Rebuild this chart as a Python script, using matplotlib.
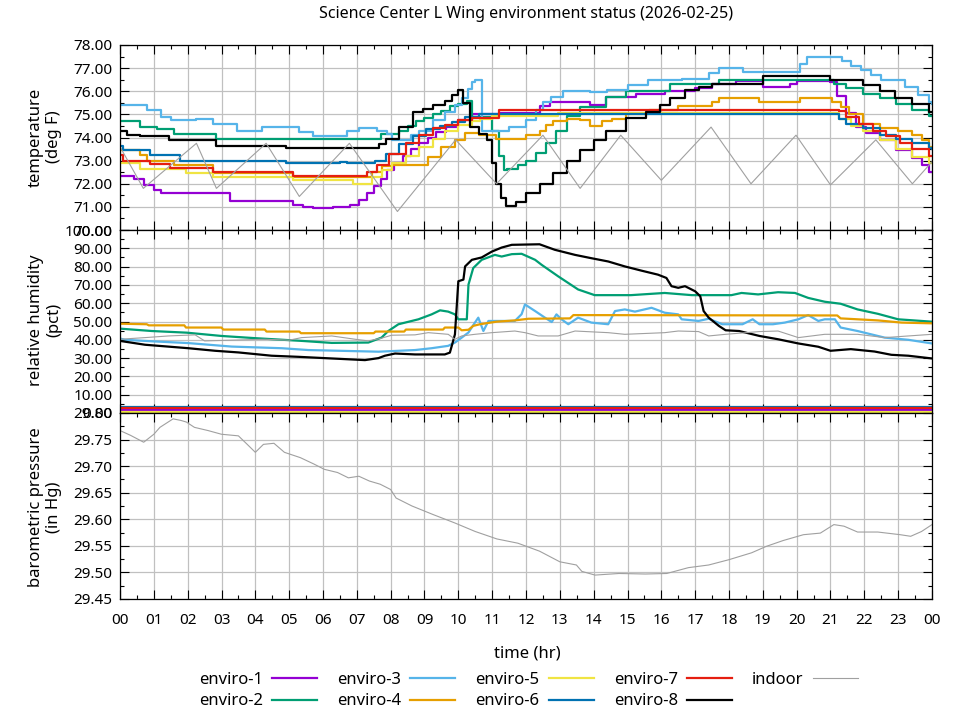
import matplotlib
matplotlib.use('Agg')
import matplotlib.pyplot as plt
from matplotlib.ticker import MultipleLocator, FormatStrFormatter, FixedLocator, FixedFormatter

plt.rcParams['font.family'] = ['Noto Sans', 'DejaVu Sans']
plt.rcParams['font.size'] = 12

# ── Data ─────────────────────────────────────────────────────────────
sensors = ['enviro-1', 'enviro-2', 'enviro-3', 'enviro-4',
           'enviro-5', 'enviro-6', 'enviro-7', 'enviro-8', 'indoor']
colors = ['#9400d3', '#009e73', '#56b4e9', '#e69f00',
          '#f0e442', '#0072b2', '#e51e10', '#000000', '#a0a0a0']

hours = list(range(0, 25))
hour_labels = ['%02d' % (h % 24) for h in hours]

# temperature (deg F), (hour, value) step points
temp_e1 = [(0.0, 72.35), (0.4, 72.2), (0.7, 71.95), (1.0, 71.75), (1.2, 71.6),
           (3.25, 71.25), (5.1, 71.1), (5.4, 71.0), (5.7, 70.95), (6.3, 71.0),
           (6.8, 71.1), (7.05, 71.3), (7.3, 71.6), (7.5, 71.9), (7.7, 72.2),
           (7.9, 72.6), (8.1, 72.9), (8.35, 73.2), (8.6, 73.5), (8.85, 73.75),
           (9.1, 74.0), (9.35, 74.25), (9.65, 74.45), (10.0, 74.75), (10.4, 75.0),
           (11.2, 75.05), (12.4, 75.35), (12.7, 75.55), (13.9, 75.4), (14.35, 75.75),
           (15.25, 75.9), (16.1, 76.0), (17.0, 76.15), (17.5, 76.3), (18.2, 76.45),
           (19.0, 76.2), (19.8, 76.3), (20.0, 76.45), (21.0, 76.4), (21.2, 75.8),
           (21.45, 75.05), (21.75, 74.45), (22.05, 74.2), (22.45, 73.9), (22.95, 73.45),
           (23.4, 73.1), (23.7, 72.8), (23.9, 72.5), (24.0, 72.5)]
temp_e2 = [(0.0, 74.7), (0.6, 74.45), (1.1, 74.35), (1.6, 74.15), (2.85, 73.95),
           (7.7, 74.15), (8.25, 74.3), (8.5, 74.5), (8.75, 74.7), (9.0, 74.85),
           (9.25, 75.0), (9.5, 75.15), (9.75, 75.35), (10.0, 75.45), (10.25, 75.6),
           (10.4, 74.9), (11.0, 74.3), (11.2, 73.2), (11.35, 72.6), (11.45, 72.65),
           (11.75, 72.8), (12.0, 73.0), (12.3, 73.35), (12.6, 73.75), (12.9, 74.3),
           (13.2, 74.95), (13.6, 75.3), (14.35, 75.75), (14.95, 76.0), (16.25, 76.3),
           (17.7, 76.5), (21.1, 76.3), (21.45, 76.15), (21.95, 75.9), (22.45, 75.7),
           (22.95, 75.45), (23.4, 75.2), (23.9, 74.95), (24.0, 74.95)]
temp_e3 = [(0.0, 75.4), (0.8, 75.2), (1.2, 74.9), (1.5, 74.75), (2.25, 74.8),
           (2.75, 74.6), (3.45, 74.3), (4.2, 74.45), (5.3, 74.25), (5.7, 74.05),
           (6.7, 74.3), (7.05, 74.4), (7.6, 74.3), (7.9, 74.15), (8.05, 73.9),
           (8.6, 74.1), (8.85, 74.3), (9.25, 74.75), (9.6, 75.1), (9.9, 75.4),
           (10.1, 75.7), (10.3, 76.1), (10.4, 76.4), (10.5, 76.5), (10.7, 74.3),
           (11.5, 74.45), (12.0, 74.75), (12.3, 75.2), (12.5, 75.55), (12.75, 75.75),
           (13.1, 76.0), (13.9, 75.95), (14.4, 76.05), (15.0, 76.25), (15.6, 76.5),
           (16.6, 76.55), (17.4, 76.8), (17.7, 77.0), (18.4, 76.85), (20.1, 77.2),
           (20.3, 77.5), (21.35, 77.3), (21.6, 77.1), (21.9, 76.9), (22.2, 76.7),
           (22.5, 76.5), (23.2, 76.2), (23.6, 75.85), (23.9, 75.55), (24.0, 75.45)]
temp_e4 = [(0.0, 73.45), (0.6, 73.25), (0.8, 73.0), (1.6, 72.8), (2.75, 72.45),
           (5.1, 72.3), (7.45, 72.5), (7.75, 72.75), (8.05, 72.8), (9.1, 73.15),
           (9.5, 73.6), (9.9, 73.9), (10.2, 74.2), (10.6, 74.1), (11.1, 73.95),
           (12.0, 74.1), (12.4, 74.3), (12.6, 74.55), (12.8, 74.7), (13.2, 74.8),
           (13.6, 74.75), (13.9, 74.5), (14.25, 74.7), (14.55, 74.8), (14.95, 75.0),
           (15.65, 75.2), (16.5, 75.35), (17.5, 75.55), (17.7, 75.7), (18.9, 75.55),
           (20.1, 75.7), (21.05, 75.55), (21.3, 75.3), (21.55, 75.0), (21.95, 74.6),
           (22.45, 74.4), (23.0, 74.3), (23.4, 74.1), (23.7, 73.9), (23.9, 73.6),
           (24.0, 73.6)]
temp_e5 = [(0.0, 72.9), (0.6, 72.65), (1.95, 72.45), (2.75, 72.3), (5.1, 72.15),
           (6.9, 72.0), (7.45, 72.3), (7.75, 72.6), (8.05, 72.9), (8.45, 73.2),
           (8.85, 73.6), (9.25, 73.95), (9.6, 74.3), (10.0, 74.55), (10.4, 74.7),
           (10.65, 74.8), (11.0, 74.95), (12.95, 75.05), (21.25, 74.8), (21.6, 74.5),
           (21.95, 74.3), (22.45, 73.9), (22.95, 73.5), (23.4, 73.15), (23.9, 72.9),
           (24.0, 72.9)]
temp_e6 = [(0.0, 73.65), (0.1, 73.45), (0.88, 73.25), (1.77, 73.0), (4.9, 72.9),
           (6.5, 72.95), (6.7, 72.88), (7.55, 73.0), (7.85, 73.3), (8.25, 73.7),
           (8.65, 74.05), (9.05, 74.35), (9.45, 74.5), (9.8, 74.65), (10.2, 74.9),
           (10.6, 75.0), (21.25, 74.8), (21.45, 74.6), (21.95, 74.4), (22.45, 74.1),
           (22.95, 73.95), (23.4, 73.75), (23.9, 73.55), (24.0, 73.5)]
temp_e7 = [(0.0, 73.25), (0.1, 73.0), (0.88, 72.85), (1.47, 72.7), (2.75, 72.5),
           (5.1, 72.35), (7.3, 72.5), (7.6, 72.8), (7.95, 73.3), (8.45, 73.75),
           (8.85, 74.1), (9.25, 74.4), (9.6, 74.55), (10.0, 74.75), (10.4, 74.85),
           (11.2, 75.2), (21.25, 75.15), (21.45, 74.9), (21.85, 74.6), (22.25, 74.3),
           (22.65, 74.05), (23.05, 73.75), (23.4, 73.5), (23.9, 73.2), (24.0, 73.2)]
temp_e8 = [(0.0, 74.3), (0.2, 74.1), (0.6, 74.05), (1.45, 73.9), (2.85, 73.65),
           (4.9, 73.55), (7.55, 73.55), (7.65, 73.7), (7.85, 73.95), (8.25, 74.45),
           (8.65, 75.1), (8.95, 75.25), (9.25, 75.4), (9.6, 75.6), (9.8, 75.85),
           (10.0, 76.05), (10.15, 75.5), (10.35, 74.45), (10.6, 74.15), (10.85, 73.9),
           (11.0, 72.9), (11.1, 72.0), (11.25, 71.4), (11.4, 71.05), (11.7, 71.2),
           (12.0, 71.6), (12.4, 72.0), (12.8, 72.45), (13.2, 73.0), (13.6, 73.45),
           (14.0, 73.9), (14.35, 74.3), (14.95, 74.85), (15.55, 75.1), (15.95, 75.4),
           (16.25, 75.7), (16.7, 76.05), (17.1, 76.2), (17.5, 76.3), (19.0, 76.65),
           (21.0, 76.5), (21.95, 76.25), (22.45, 76.0), (22.9, 75.7), (23.4, 75.45),
           (23.9, 75.1), (24.0, 75.1)]
temp_indoor = [(0.0, 73.6), (0.69, 71.8), (2.26, 73.75), (2.85, 71.8), (4.32, 73.75),
               (5.3, 71.45), (6.78, 73.75), (8.2, 70.8), (9.92, 73.9), (11.13, 72.0),
               (12.5, 74.1), (13.6, 71.8), (14.8, 74.1), (16.0, 72.15), (17.47, 74.45),
               (18.65, 72.0), (19.98, 74.1), (21.0, 71.95), (22.34, 73.9), (23.42, 72.0),
               (24.0, 72.95)]

# relative humidity (pct)
hum_e1 = [(0.0, 1.6), (24.0, 1.6)]
hum_e2 = [(0.0, 46.1), (0.94, 44.8), (1.97, 43.9), (3.0, 42.1), (3.99, 40.9),
          (5.37, 39.4), (6.26, 38.3), (7.34, 38.5), (7.73, 41.2), (7.93, 44.8),
          (8.23, 48.5), (8.82, 51.2), (9.21, 53.9), (9.46, 56.1), (9.7, 55.4),
          (9.9, 53.9), (10.0, 51.2), (10.25, 51.2), (10.3, 70.2), (10.44, 79.2),
          (10.69, 83.7), (11.08, 86.4), (11.28, 85.5), (11.58, 86.8), (11.87, 87.0),
          (12.27, 83.7), (12.46, 81.0), (12.95, 74.7), (13.54, 67.5), (14.03, 64.4),
          (15.1, 64.4), (16.1, 65.6), (16.9, 64.4), (18.07, 64.4), (18.37, 65.6),
          (18.86, 64.8), (19.45, 66.0), (19.95, 65.6), (20.34, 62.9), (20.83, 60.8),
          (21.3, 59.7), (21.8, 56.6), (22.4, 54.2), (23.0, 51.2), (24.0, 49.9)]
hum_e3 = [(0.0, 40.7), (0.15, 40.0), (1.03, 39.1), (2.02, 38.2), (3.3, 36.3),
          (4.78, 35.4), (5.57, 34.4), (7.64, 33.5), (8.72, 34.4), (9.21, 35.4),
          (9.7, 36.7), (9.9, 38.5), (10.1, 41.2), (10.3, 44.0), (10.49, 49.4),
          (10.59, 52.1), (10.74, 44.8), (10.89, 50.3), (11.67, 50.3), (11.87, 54.0),
          (11.97, 59.3), (12.27, 55.7), (12.56, 52.1), (12.76, 49.7), (12.9, 53.9),
          (13.05, 51.2), (13.25, 48.5), (13.54, 52.1), (13.93, 49.4), (14.43, 48.5),
          (14.63, 55.7), (14.92, 56.6), (15.22, 55.4), (15.71, 57.5), (16.1, 54.8),
          (16.5, 53.9), (16.6, 51.2), (17.1, 50.3), (17.4, 51.5), (17.8, 48.5),
          (18.4, 48.5), (18.7, 51.2), (18.9, 48.5), (19.3, 48.5), (19.65, 49.4),
          (20.05, 51.2), (20.34, 53.5), (20.64, 50.3), (20.83, 51.2), (21.13, 51.2),
          (21.3, 46.7), (21.8, 44.8), (22.6, 41.2), (23.3, 40.0), (24.0, 38.0)]
hum_e4 = [(0.0, 48.8), (0.79, 48.5), (0.85, 47.9), (1.9, 47.9), (1.95, 46.7),
          (3.0, 46.7), (3.05, 45.6), (4.28, 45.6), (4.33, 44.5), (5.3, 44.5),
          (5.35, 43.6), (7.5, 43.6), (7.55, 44.5), (8.4, 44.5), (8.45, 45.6),
          (9.55, 45.6), (9.6, 46.7), (10.0, 46.7), (10.1, 45.2), (10.3, 45.5),
          (10.44, 47.6), (10.64, 48.5), (11.13, 49.9), (11.67, 50.6), (12.07, 51.5),
          (13.3, 51.7), (13.4, 53.5), (21.2, 53.3), (21.3, 51.7), (21.8, 51.2),
          (22.4, 50.6), (23.1, 49.4), (24.0, 49.0)]
hum_e5 = [(0.0, 0.4), (24.0, 0.4)]
hum_e6 = [(0.0, 3.5), (24.0, 3.5)]
hum_e7 = [(0.0, 2.5), (24.0, 2.5)]
hum_e8 = [(0.0, 39.4), (0.74, 37.3), (2.02, 35.4), (2.81, 34.0), (3.5, 33.1),
          (4.48, 31.3), (5.27, 30.7), (6.26, 29.8), (7.24, 28.9), (7.64, 30.0),
          (7.83, 31.3), (8.13, 32.5), (8.72, 32.0), (9.6, 32.0), (9.75, 33.0),
          (9.82, 37.6), (9.9, 43.0), (9.95, 57.5), (10.0, 72.0), (10.15, 72.9),
          (10.2, 80.1), (10.4, 83.7), (10.69, 85.0), (10.99, 88.2), (11.28, 90.4),
          (11.58, 91.9), (12.4, 92.2), (12.85, 89.2), (13.45, 86.4), (13.93, 84.6),
          (14.43, 82.8), (14.92, 80.1), (15.41, 77.8), (15.9, 75.6), (16.15, 73.8),
          (16.3, 69.3), (16.5, 68.4), (16.7, 69.3), (17.0, 66.5), (17.15, 63.8),
          (17.25, 55.7), (17.4, 52.1), (17.7, 47.6), (17.9, 45.2), (18.3, 44.8),
          (18.9, 42.1), (19.45, 40.3), (20.05, 38.0), (20.64, 36.2), (21.0, 34.0),
          (21.6, 34.9), (22.3, 33.6), (22.8, 31.8), (23.3, 31.3), (24.0, 29.8)]
hum_indoor = [(0.0, 40.3), (0.74, 41.2), (1.43, 42.1), (2.22, 42.7), (2.5, 39.4),
              (3.3, 39.8), (4.28, 40.3), (5.0, 39.8), (5.37, 41.2), (6.26, 42.1),
              (6.95, 40.3), (7.34, 39.4), (7.73, 40.9), (8.03, 42.5), (8.72, 42.7),
              (9.11, 43.9), (9.7, 43.0), (9.9, 40.3), (10.1, 42.1), (10.49, 43.0),
              (10.99, 43.9), (11.67, 44.8), (11.97, 43.9), (12.36, 42.1), (12.95, 42.1),
              (13.45, 44.8), (14.43, 43.9), (14.92, 43.0), (16.1, 43.9), (16.5, 44.8),
              (17.1, 44.5), (17.4, 42.1), (17.9, 43.0), (18.9, 44.5), (19.45, 44.8),
              (20.05, 41.2), (20.83, 43.0), (21.8, 43.0), (22.6, 41.2), (23.3, 42.1),
              (24.0, 43.0)]

# barometric pressure (in Hg), indoor only
pres_indoor = [(0.0, 29.767), (0.31, 29.758), (0.7, 29.745), (1.0, 29.760),
               (1.18, 29.773), (1.57, 29.789), (1.8, 29.786), (1.96, 29.783),
               (2.2, 29.773), (2.6, 29.767), (3.0, 29.760), (3.5, 29.757),
               (3.76, 29.741), (4.0, 29.726), (4.24, 29.741), (4.55, 29.743),
               (4.86, 29.726), (5.33, 29.716), (5.73, 29.704), (6.04, 29.694),
               (6.43, 29.688), (6.75, 29.678), (7.06, 29.681), (7.37, 29.672),
               (7.69, 29.666), (8.0, 29.656), (8.16, 29.640), (8.63, 29.625),
               (9.25, 29.609), (9.9, 29.593), (10.5, 29.577), (11.14, 29.563),
               (11.76, 29.555), (12.4, 29.540), (13.0, 29.520), (13.49, 29.514),
               (13.65, 29.502), (14.04, 29.495), (14.75, 29.498), (15.53, 29.497),
               (16.16, 29.498), (16.8, 29.509), (17.4, 29.514), (18.0, 29.524),
               (18.67, 29.537), (19.1, 29.549), (19.6, 29.560), (20.2, 29.571),
               (20.7, 29.574), (21.1, 29.590), (21.4, 29.587), (21.8, 29.576),
               (22.4, 29.576), (23.06, 29.571), (23.37, 29.568), (23.69, 29.577),
               (24.0, 29.590)]

temps = [temp_e1, temp_e2, temp_e3, temp_e4, temp_e5, temp_e6, temp_e7, temp_e8, temp_indoor]
hums = [hum_e1, hum_e2, hum_e3, hum_e4, hum_e5, hum_e6, hum_e7, hum_e8, hum_indoor]

# ── Figure / axes ───────────────────────────────────────────────────
W, H = 960, 720
fig = plt.figure(figsize=(W / 100, H / 100), dpi=100)
left, right = 120 / W, 932 / W


def panel(top_px, bot_px):
    return fig.add_axes([left, 1 - bot_px / H, right - left, (bot_px - top_px) / H])


ax_t = panel(45, 230)
ax_h = panel(230, 413)
ax_p = panel(413, 599)


def style(ax, ymin, ymax, major, minor, show_x):
    ax.set_xlim(0, 24)
    ax.set_ylim(ymin, ymax)
    ax.xaxis.set_major_locator(FixedLocator(hours))
    ax.xaxis.set_minor_locator(MultipleLocator(0.5))
    ax.yaxis.set_major_locator(MultipleLocator(major))
    ax.yaxis.set_minor_locator(MultipleLocator(minor))
    ax.yaxis.set_major_formatter(FormatStrFormatter('%.2f'))
    if show_x:
        ax.xaxis.set_major_formatter(FixedFormatter(hour_labels))
    else:
        ax.set_xticklabels([])
    ax.tick_params(which='both', direction='in', top=True, right=True,
                   color='black', width=0.8, labelsize=11)
    ax.tick_params(which='major', length=6.5)
    ax.tick_params(which='minor', length=3.2)
    ax.tick_params(axis='y', pad=5.5)
    ax.tick_params(axis='x', pad=10)
    ax.grid(True, which='major', color='#c0c0c0', linewidth=0.9)
    ax.set_axisbelow(True)
    for s in ax.spines.values():
        s.set_linewidth(0.9)


style(ax_t, 70, 78, 1, 0.5, False)
style(ax_h, 0, 100, 10, 5, False)
style(ax_p, 29.45, 29.80, 0.05, 0.025, True)

# ── Plot ─────────────────────────────────────────────────────────────
for name, col, tp, hp in zip(sensors, colors, temps, hums):
    indoor = name == 'indoor'
    lw = 0.8 if indoor else 1.6
    ds = 'default' if indoor else 'steps-post'
    t, v = zip(*tp)
    ax_t.plot(t, v, color=col, lw=lw, drawstyle=ds, label=name)
    t, v = zip(*hp)
    ax_h.plot(t, v, color=col, lw=lw, drawstyle='default')

t, v = zip(*pres_indoor)
ax_p.plot(t, v, color=colors[-1], lw=0.8)

# ── Labels ───────────────────────────────────────────────────────────
fig.text(526 / W, 1 - 14 / H, 'Science Center L Wing environment status (2026-02-25)',
         ha='center', va='center', fontsize=11.5)
fig.text(45 / W, 1 - 137 / H, 'temperature\n(deg F)', rotation=90,
         ha='center', va='center', multialignment='center')
fig.text(45 / W, 1 - 320 / H, 'relative humidity\n(pct)', rotation=90,
         ha='center', va='center', multialignment='center')
fig.text(45 / W, 1 - 507 / H, 'barometric pressure\n(in Hg)', rotation=90,
         ha='center', va='center', multialignment='center')
fig.text(527 / W, 1 - 653 / H, 'time (hr)', ha='center', va='center')

handles, labels = ax_t.get_legend_handles_labels()
fig.legend(handles, labels, ncol=5, loc='upper left',
           bbox_to_anchor=(199 / W, 1 - 672 / H), frameon=False,
           markerfirst=False, handlelength=2.7, handletextpad=0.55,
           columnspacing=1.2, labelspacing=0.32, borderpad=0, borderaxespad=0)

fig.savefig('out.png', dpi=100)
